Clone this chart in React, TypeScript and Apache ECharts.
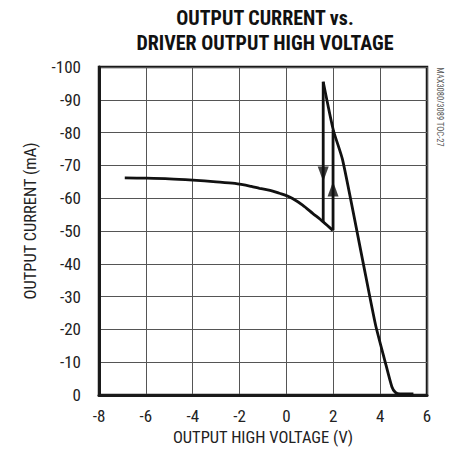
import React, { useEffect, useRef } from "react";
import * as echarts from "echarts";

// Main curve: output current vs output high voltage (lower branch)
const mainV = [-6.9, -6, -5, -4, -3, -2.2, -1.5, -1.15, -0.7, -0.3, 0.0, 0.26, 0.69, 1.12, 1.57, 1.98];
const mainI = [-66.2, -66.1, -65.9, -65.5, -65.0, -64.5, -63.6, -63.0, -62.4, -61.5, -60.8, -59.9, -57.9, -55.4, -52.8, -50.2];

// Hysteresis jump lines
const downV = [1.57, 1.57];
const downI = [-95.5, -52.8];
const upV = [1.99, 1.99];
const upI = [-50.2, -80.8];

// Upper branch down to zero current
const upperV = [1.57, 2.0, 2.4, 3.25, 3.8, 4.2, 4.5, 4.65, 4.85, 5.42];
const upperI = [-95.5, -80.8, -71.6, -41.2, -21.5, -10.5, -2.5, -0.8, -0.3, -0.3];

// Arrow markers
const arrowDown = [1.57, -67.4];
const arrowUp = [1.99, -62.8];

const xTicks = { min: -8, max: 6, interval: 2 };
const yTicks = { min: -100, max: 0, interval: 10 };

const FONT = "'Liberation Sans Narrow', 'Arial Narrow', 'Roboto Condensed', 'Liberation Sans', sans-serif";

const zip = (a: number[], b: number[]) => a.map((v, i) => [v, b[i]]);

export default function App() {
  const ref = useRef<HTMLDivElement>(null);
  useEffect(() => {
    if (!ref.current) return;
    const chart = echarts.init(ref.current, null, { renderer: "svg" });
    const lineStyle = { color: "#111", width: 2.8 };
    chart.setOption({
      animation: false,
      backgroundColor: "#fff",
      title: {
        text: "OUTPUT CURRENT vs.\nDRIVER OUTPUT HIGH VOLTAGE",
        left: 260,
        top: 0,
        textAlign: "center",
        textStyle: {
          fontFamily: FONT,
          fontWeight: "bold",
          fontSize: 20,
          lineHeight: 25,
          color: "#111",
        },
      },
      grid: {
        left: 99,
        right: 25,
        top: 67,
        bottom: 64,
        show: true,
        borderColor: "#1a1a1a",
        borderWidth: 2.5,
      },
      xAxis: {
        type: "value",
        min: xTicks.min,
        max: xTicks.max,
        interval: xTicks.interval,
        name: "OUTPUT HIGH VOLTAGE (V)",
        nameLocation: "middle",
        nameGap: 31,
        nameTextStyle: { fontFamily: FONT, fontSize: 16.5, color: "#222" },
        axisLine: { show: true, onZero: false, lineStyle: { color: "#1a1a1a", width: 3 } },
        axisTick: { show: false },
        axisLabel: { margin: 12, fontFamily: FONT, fontSize: 17, color: "#222" },
        splitLine: { show: true, lineStyle: { color: "#555", width: 1 } },
      },
      yAxis: {
        type: "value",
        min: yTicks.min,
        max: yTicks.max,
        interval: yTicks.interval,
        inverse: true,
        axisLine: { show: true, onZero: false, lineStyle: { color: "#1a1a1a", width: 3 } },
        axisTick: { show: false },
        axisLabel: { margin: 18, fontFamily: FONT, fontSize: 17, color: "#222" },
        splitLine: { show: true, lineStyle: { color: "#555", width: 1 } },
      },
      graphic: [
        {
          type: "text",
          x: 30,
          y: 221,
          rotation: Math.PI / 2,
          style: {
            text: "OUTPUT CURRENT (mA)",
            fontFamily: FONT,
            fontSize: 16.5,
            fill: "#222",
            align: "center",
            verticalAlign: "middle",
          },
        },
        {
          type: "text",
          x: 440,
          y: 107,
          rotation: -Math.PI / 2,
          style: {
            text: "MAX3080/3089 TOC-27",
            fontFamily: FONT,
            fontSize: 8.5,
            fill: "#555",
            align: "center",
            verticalAlign: "middle",
          },
        },
      ],
      series: [
        {
          type: "line",
          data: zip(mainV, mainI),
          showSymbol: false,
          smooth: 0.3,
          lineStyle,
        },
        {
          type: "line",
          data: zip(downV, downI),
          showSymbol: false,
          lineStyle,
        },
        {
          type: "line",
          data: zip(upV, upI),
          showSymbol: false,
          lineStyle,
        },
        {
          type: "line",
          data: zip(upperV, upperI),
          showSymbol: false,
          smooth: 0.2,
          lineStyle,
        },
        {
          type: "scatter",
          data: [arrowDown],
          symbol: "triangle",
          symbolRotate: 180,
          symbolSize: [11, 15],
          itemStyle: { color: "#111" },
        },
        {
          type: "scatter",
          data: [arrowUp],
          symbol: "triangle",
          symbolSize: [11, 15],
          itemStyle: { color: "#111" },
        },
      ],
    });
    return () => chart.dispose();
  }, []);
  return (
    <div
      ref={ref}
      style={{ position: "fixed", left: 0, top: 0, width: 452, height: 459 }}
    />
  );
}
